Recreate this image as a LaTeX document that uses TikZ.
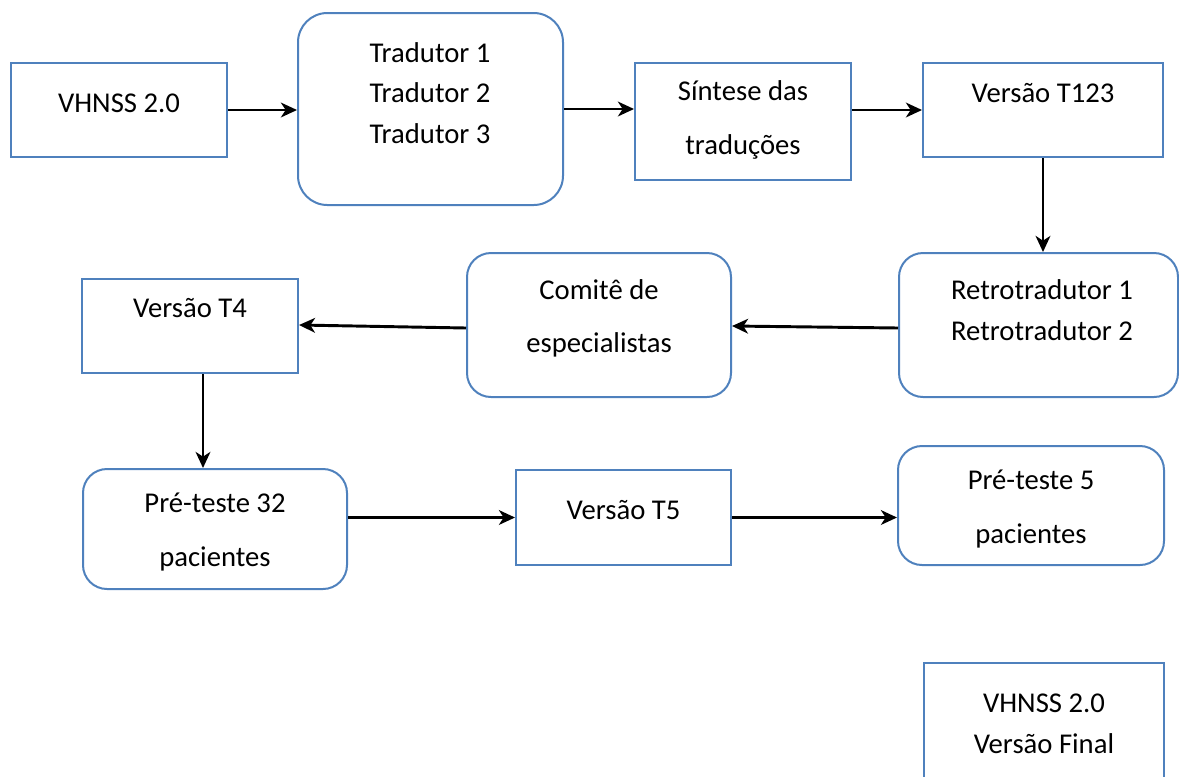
\documentclass[tikz,border=0pt]{standalone}
\usepackage{fontspec}
\setmainfont{Carlito}
\usetikzlibrary{arrows.meta, positioning}
\definecolor{boxblue}{HTML}{4F81BD}

\begin{document}
\begin{tikzpicture}[x=0.75pt, y=-0.75pt,
  box/.style={draw=boxblue, line width=1.5pt, inner sep=0pt},
  rbox/.style={box, rounded corners=18pt},
  lbl/.style={align=center, inner sep=0pt, font=\fontsize{21.5}{30.5}\selectfont},
  lblw/.style={align=center, inner sep=0pt, font=\fontsize{21.5}{40}\selectfont},
  arr/.style={-{Stealth[length=12pt, width=11pt, inset=3.5pt]}, line width=2.2pt}]
\clip (0,0) rectangle (1179,776);

\node[box, minimum width=162pt, minimum height=70.5pt] (vh) at (119,110) {};
\node[rbox, rounded corners=22pt, minimum width=198.75pt, minimum height=144pt] (trad) at (430.5,109) {};
\node[box, minimum width=162pt, minimum height=87.75pt] (sint) at (743,121.5) {};
\node[box, minimum width=180pt, minimum height=70.5pt] (t123) at (1043,110) {};
\node[rbox, minimum width=209.25pt, minimum height=108pt] (retro) at (1038.5,325) {};
\node[rbox, minimum width=198pt, minimum height=108pt] (com) at (599,325) {};
\node[box, minimum width=162pt, minimum height=70.5pt] (t4) at (190,326) {};
\node[rbox, minimum width=198pt, minimum height=90pt] (pre32) at (215,529) {};
\node[box, minimum width=161.25pt, minimum height=71.25pt] (t5) at (623.5,517.5) {};
\node[rbox, minimum width=199.5pt, minimum height=89.25pt] (pre5) at (1031,505.5) {};
\node[box, minimum width=180pt, minimum height=95.25pt] (fin) at (1044,726.5) {};

\node[lbl] (vhT) at (119,103) {VHNSS 2.0};
\node[lbl] (tradT) at (430,93) {Tradutor 1\\Tradutor 2\\Tradutor 3};
\node[lblw] (sintT) at (743,120) {Síntese das\\traduções};
\node[lbl] (t123T) at (1043,93) {Versão T123};
\node[lbl] (retroT) at (1042,310) {Retrotradutor 1\\Retrotradutor 2};
\node[lblw] (comT) at (599,318.5) {Comitê de\\especialistas};
\node[lbl] (t4T) at (190,308) {Versão T4};
\node[lblw] (pre32T) at (215,532) {Pré-teste 32\\pacientes};
\node[lbl] (t5T) at (623.5,510) {Versão T5};
\node[lblw] (pre5T) at (1031,509) {Pré-teste 5\\pacientes};
\node[lbl] (finT) at (1044,724) {VHNSS 2.0\\Versão Final};

\draw[arr] (vh.east) -- (vh.east -| trad.west);
\draw[arr] (trad.east) -- (trad.east -| sint.west);
\draw[arr] (t123.west -| sint.east) -- (t123.west);
\draw[arr] (t123.south) -- (t123.south |- retro.north);
\draw[arr] ([yshift=-2.25pt]retro.west) -- ([yshift=-0.75pt]com.east);
\draw[arr] ([yshift=-2.25pt]com.west) -- ([yshift=0.75pt]t4.east);
\draw[arr] ([xshift=9.75pt]t4.south) -- ([xshift=9.75pt]t4.south |- pre32.north);
\draw[arr] (t5.west -| pre32.east) -- (t5.west);
\draw[arr] (t5.east) -- (t5.east -| pre5.west);
\end{tikzpicture}
\end{document}
